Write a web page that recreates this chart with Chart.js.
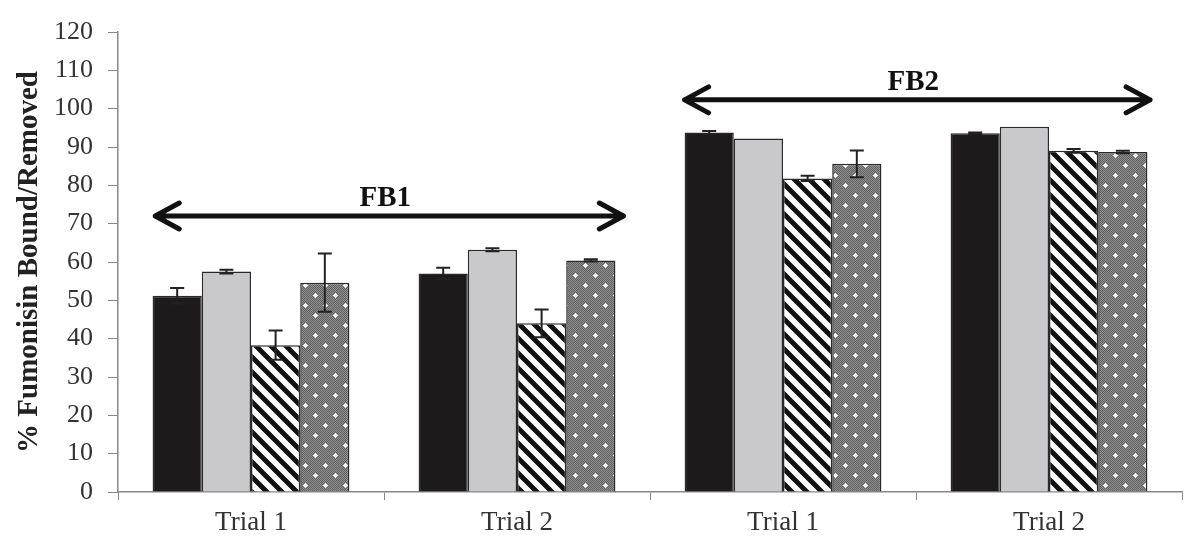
<!doctype html>
<html lang="en">
<head>
  <meta charset="utf-8">
  <title>Fumonisin Bound/Removed</title>
  <script src="https://cdn.jsdelivr.net/npm/chart.js"></script>
  <style>
    html, body { margin: 0; padding: 0; background: #fff; }
    #wrap { width: 1184px; height: 541px; }
  </style>
</head>
<body>
  <div id="wrap"><canvas id="myChart"></canvas></div>
  <script>
    // values
    const categories = ['Trial 1', 'Trial 2', 'Trial 1', 'Trial 2'];
    const seriesA = [51.2, 57.0, 93.8, 93.6];
    const seriesB = [57.5, 63.2, 92.2, 95.3];
    const seriesC = [38.3, 44.0, 81.8, 89.0];
    const seriesD = [54.6, 60.4, 85.6, 88.7];
    const errA = [2.0, 1.5, 0.4, 0.2];
    const errB = [0.5, 0.4, 0, 0];
    const errC = [3.8, 3.6, 0.7, 0.5];
    const errD = [7.6, 0.3, 3.5, 0.3];
    const yTicks = [0, 10, 20, 30, 40, 50, 60, 70, 80, 90, 100, 110, 120];

    // brackets over the groups: label, start/end (category index units), height (y value)
    const groupLabels = ['FB1', 'FB2'];
    const groupFrom = [-0.36, 1.63];
    const groupTo = [1.40, 3.38];
    const groupAt = [72.0, 102.3];

    const ctx = document.getElementById('myChart');

    function hatch() {
      const c = document.createElement('canvas');
      c.width = 30; c.height = 30;
      const g = c.getContext('2d');
      g.fillStyle = '#fff';
      g.fillRect(0, 0, 30, 30);
      g.strokeStyle = '#111';
      g.lineWidth = 5;
      g.beginPath();
      for (let k = -45; k <= 45; k += 15) {
        g.moveTo(k - 5, -5);
        g.lineTo(k + 35, 35);
      }
      g.stroke();
      return g.createPattern(c, 'repeat');
    }

    function dots() {
      const c = document.createElement('canvas');
      c.width = 20; c.height = 20;
      const g = c.getContext('2d');
      g.fillStyle = '#8e8e8e';
      g.fillRect(0, 0, 20, 20);
      g.fillStyle = '#626262';
      for (let i = 0; i < 20; i++) {
        for (let j = i % 2; j < 20; j += 2) g.fillRect(i, j, 1, 1);
      }
      g.fillStyle = '#f4f4f4';
      [[5, 5], [15, 15]].forEach(([x, y]) => {
        g.fillRect(x - 2, y, 5, 1);
        g.fillRect(x, y - 2, 1, 5);
        g.fillRect(x - 1, y - 1, 3, 3);
      });
      return g.createPattern(c, 'repeat');
    }

    const errorBars = {
      id: 'errorBars',
      afterDatasetsDraw(chart) {
        const g = chart.ctx;
        const y = chart.scales.y;
        const errs = [errA, errB, errC, errD];
        g.save();
        g.strokeStyle = '#222';
        g.lineWidth = 2;
        chart.data.datasets.forEach((ds, di) => {
          const meta = chart.getDatasetMeta(di);
          meta.data.forEach((bar, i) => {
            const e = errs[di][i];
            if (!e) return;
            const top = y.getPixelForValue(ds.data[i] + e);
            const bot = y.getPixelForValue(ds.data[i] - e);
            g.beginPath();
            g.moveTo(bar.x, top); g.lineTo(bar.x, bot);
            g.moveTo(bar.x - 7, top); g.lineTo(bar.x + 7, top);
            g.moveTo(bar.x - 7, bot); g.lineTo(bar.x + 7, bot);
            g.stroke();
          });
        });
        g.restore();
      }
    };

    const brackets = {
      id: 'brackets',
      afterDraw(chart) {
        const g = chart.ctx;
        const xs = chart.scales.x, ys = chart.scales.y;
        g.save();
        g.strokeStyle = '#111';
        g.fillStyle = '#111';
        g.lineWidth = 5;
        g.lineCap = 'round';
        g.lineJoin = 'round';
        groupLabels.forEach((lab, i) => {
          const x0 = xs.getPixelForValue(groupFrom[i]);
          const x1 = xs.getPixelForValue(groupTo[i]);
          const yy = ys.getPixelForValue(groupAt[i]);
          g.beginPath();
          g.moveTo(x0, yy); g.lineTo(x1, yy);
          g.moveTo(x0 + 24, yy - 13); g.lineTo(x0, yy); g.lineTo(x0 + 24, yy + 13);
          g.moveTo(x1 - 24, yy - 13); g.lineTo(x1, yy); g.lineTo(x1 - 24, yy + 13);
          g.stroke();
          g.font = 'bold 29px "Liberation Serif"';
          g.textAlign = 'center';
          g.textBaseline = 'alphabetic';
          g.fillText(lab, (x0 + x1) / 2 - 4, yy - 10);
        });
        g.restore();
      }
    };

    const fills = ['#1c1a1b', '#c9c9cb', hatch(), dots()];
    const values = [seriesA, seriesB, seriesC, seriesD];

    new Chart(ctx, {
      type: 'bar',
      data: {
        labels: categories,
        datasets: values.map((v, i) => ({
          label: 'Series ' + (i + 1),
          data: v,
          backgroundColor: fills[i],
          borderColor: '#2a2a2a',
          borderWidth: 1.5,
          categoryPercentage: 0.74,
          barPercentage: 1.0
        }))
      },
      options: {
        responsive: true,
        maintainAspectRatio: false,
        animation: false,
        layout: { padding: { top: 32, right: 2, left: 0, bottom: 0 } },
        plugins: {
          legend: { display: false },
          tooltip: { enabled: false }
        },
        scales: {
          x: {
            afterFit(axis) { axis.height = 49; },
            grid: {
              offset: true,
              drawOnChartArea: false,
              tickLength: 8,
              color: '#888'
            },
            border: { color: '#888', width: 1.5 },
            ticks: {
              color: '#333',
              padding: 7,
              font: { family: '"Liberation Serif"', size: 27 }
            }
          },
          y: {
            min: 0,
            max: 120,
            afterFit(axis) { axis.width = 118; },
            afterBuildTicks(axis) { axis.ticks = yTicks.map(v => ({ value: v })); },
            grid: {
              drawOnChartArea: false,
              tickLength: 10,
              color: '#888'
            },
            border: { color: '#888', width: 1.5 },
            ticks: {
              color: '#333',
              padding: 15,
              font: { family: '"Liberation Serif"', size: 26 }
            },
            title: {
              display: true,
              text: '% Fumonisin Bound/Removed',
              color: '#222',
              padding: { top: 12, bottom: 0 },
              font: { family: '"Liberation Serif"', size: 29, weight: 'bold' }
            }
          }
        }
      },
      plugins: [errorBars, brackets]
    });
  </script>
</body>
</html>
